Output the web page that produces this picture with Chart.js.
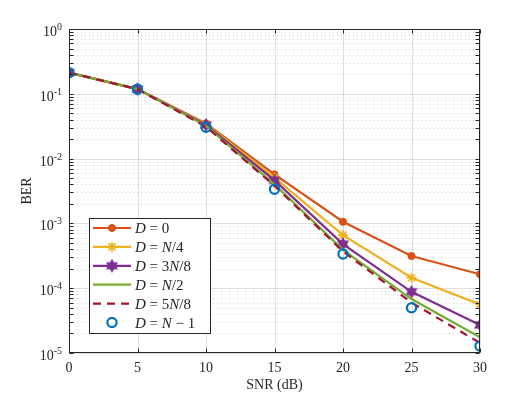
<!DOCTYPE html>
<html>
<head>
<meta charset="utf-8">
<script src="https://cdn.jsdelivr.net/npm/chart.js@4/dist/chart.umd.min.js"></script>
<style>
  html, body { margin: 0; background: #fff; }
  #wrap { width: 530px; height: 397px; }
</style>
</head>
<body>
<div id="wrap"><canvas id="berChart" width="530" height="397"></canvas></div>
<script>
// values
const snr = [0, 5, 10, 15, 20, 25, 30];
const berD0 = [0.212, 0.118, 0.035, 0.0057, 0.00106, 0.000314, 0.000164];
const berN4 = [0.212, 0.118, 0.034, 0.0051, 0.00066, 0.000145, 0.000056];
const ber3N8 = [0.212, 0.118, 0.033, 0.0046, 0.00048, 0.000088, 0.000027];
const berN2 = [0.212, 0.118, 0.032, 0.0040, 0.00039, 0.000068, 0.0000175];
const ber5N8 = [0.212, 0.118, 0.031, 0.0038, 0.00037, 0.000060, 0.0000143];
const berN1 = [0.212, 0.118, 0.0304, 0.00336, 0.000337, 0.000050, 0.0000128];
const seriesNames = ['D = 0', 'D = N/4', 'D = 3N/8', 'D = N/2', 'D = 5N/8', 'D = N \u2212 1'];
const xTicks = [0, 5, 10, 15, 20, 25, 30];
const yExponents = [-5, -4, -3, -2, -1, 0];

const AX = '#262626';
const SERIF = '"Liberation Serif", "DejaVu Serif", serif';

// filled six-point star (matlab 'h' marker)
function hexagram(color, r) {
    const c = document.createElement('canvas');
    const s = Math.ceil(r * 2 + 2);
    c.width = s; c.height = s;
    const g = c.getContext('2d');
    const cx = s / 2, cy = s / 2, ri = r * 0.58;
    g.beginPath();
    for (let i = 0; i < 12; i++) {
        const a = -Math.PI / 2 + i * Math.PI / 6;
        const rr = i % 2 === 0 ? r : ri;
        const px = cx + rr * Math.cos(a), py = cy + rr * Math.sin(a);
        if (i === 0) g.moveTo(px, py); else g.lineTo(px, py);
    }
    g.closePath();
    g.fillStyle = color;
    g.fill();
    return c;
}
const hexImg = hexagram('#7E2F8E', 7);

function pts(arr) { return snr.map((x, i) => ({ x: x, y: arr[i] })); }

const datasets = [
    { label: seriesNames[0], data: pts(berD0), borderColor: '#D95319', backgroundColor: '#D95319',
      pointStyle: 'circle', pointRadius: 3.6, pointBorderWidth: 1 },
    { label: seriesNames[1], data: pts(berN4), borderColor: '#EDB120', backgroundColor: '#EDB120',
      pointStyle: 'star', pointRadius: 5, pointBorderWidth: 1.6 },
    { label: seriesNames[2], data: pts(ber3N8), borderColor: '#7E2F8E', backgroundColor: '#7E2F8E',
      pointStyle: hexImg, pointRadius: 6 },
    { label: seriesNames[3], data: pts(berN2), borderColor: '#77AC30', backgroundColor: '#77AC30',
      pointRadius: 0 },
    { label: seriesNames[4], data: pts(ber5N8), borderColor: '#A2142F', backgroundColor: '#A2142F',
      pointRadius: 0, borderDash: [8, 6] },
    { label: seriesNames[5], data: pts(berN1), borderColor: '#0072BD', backgroundColor: 'rgba(0,0,0,0)',
      pointStyle: 'circle', pointRadius: 4.6, pointBorderWidth: 2.2, showLine: false }
];
datasets.forEach((d, i) => {
    d.borderWidth = 2.2;
    d.tension = 0;
    d.fill = false;
    d.order = datasets.length - i; // later series on top, like matlab
    d.pointBorderColor = d.borderColor;
    d.pointBackgroundColor = d.backgroundColor;
});

// grid, box, inward ticks, y labels with exponents and the legend
const frame = {
    id: 'frame',
    beforeDatasetsDraw(chart) {
        const { ctx, chartArea: a, scales: { x, y } } = chart;
        ctx.save();
        ctx.lineWidth = 1;
        // minor (dotted)
        ctx.strokeStyle = 'rgba(38,38,38,0.2)';
        ctx.setLineDash([1, 3]);
        yExponents.forEach(e => {
            if (e >= 0) return;
            for (let m = 2; m <= 9; m++) {
                const py = Math.round(y.getPixelForValue(m * Math.pow(10, e))) + 0.5;
                ctx.beginPath(); ctx.moveTo(a.left, py); ctx.lineTo(a.right, py); ctx.stroke();
            }
        });
        // major (solid)
        ctx.setLineDash([]);
        ctx.strokeStyle = 'rgba(38,38,38,0.15)';
        yExponents.forEach(e => {
            const py = Math.round(y.getPixelForValue(Math.pow(10, e))) + 0.5;
            ctx.beginPath(); ctx.moveTo(a.left, py); ctx.lineTo(a.right, py); ctx.stroke();
        });
        xTicks.forEach(v => {
            const px = Math.round(x.getPixelForValue(v)) + 0.5;
            ctx.beginPath(); ctx.moveTo(px, a.top); ctx.lineTo(px, a.bottom); ctx.stroke();
        });
        ctx.restore();
    },
    afterDatasetsDraw(chart) {
        const { ctx, chartArea: a, scales: { x, y } } = chart;
        ctx.save();
        ctx.strokeStyle = AX;
        ctx.lineWidth = 1;
        const L = Math.round(a.left) + 0.5, R = Math.round(a.right) - 0.5;
        const T = Math.round(a.top) + 0.5, B = Math.round(a.bottom) - 0.5;
        ctx.strokeRect(L, T, R - L, B - T);
        const tk = 4;
        ctx.beginPath();
        xTicks.forEach(v => {
            const px = Math.round(x.getPixelForValue(v)) + 0.5;
            ctx.moveTo(px, B); ctx.lineTo(px, B - tk);
            ctx.moveTo(px, T); ctx.lineTo(px, T + tk);
        });
        yExponents.forEach(e => {
            for (let m = 1; m <= (e < 0 ? 9 : 1); m++) {
                const py = Math.round(y.getPixelForValue(m * Math.pow(10, e))) + 0.5;
                ctx.moveTo(L, py); ctx.lineTo(L + tk, py);
                ctx.moveTo(R, py); ctx.lineTo(R - tk, py);
            }
        });
        ctx.stroke();

        // y tick labels 10^e
        ctx.fillStyle = AX;
        ctx.textBaseline = 'alphabetic';
        ctx.textAlign = 'left';
        const bigF = '14px ' + SERIF, supF = '10px ' + SERIF;
        yExponents.forEach(e => {
            const py = y.getPixelForValue(Math.pow(10, e));
            const ex = String(e);
            ctx.font = bigF; const wb = ctx.measureText('10').width;
            ctx.font = supF; const ws = ctx.measureText(ex).width;
            const x0 = 62 - wb - ws;
            ctx.font = bigF; ctx.fillText('10', x0, py + 7);
            ctx.font = supF; ctx.fillText(ex, x0 + wb, py + 1);
        });

        // legend
        const bx = 89.5, by = 218.5, bw = 121, bh = 115;
        ctx.fillStyle = '#fff';
        ctx.fillRect(bx, by, bw, bh);
        ctx.strokeStyle = AX;
        ctx.strokeRect(bx, by, bw, bh);
        chart.data.datasets.forEach((d, i) => {
            const cy = 228 + i * 18.9;
            ctx.save();
            if (d.showLine !== false) {
                ctx.strokeStyle = d.borderColor;
                ctx.lineWidth = d.borderWidth;
                ctx.setLineDash(d.borderDash || []);
                ctx.beginPath(); ctx.moveTo(93, cy); ctx.lineTo(131, cy); ctx.stroke();
            }
            ctx.setLineDash([]);
            const mx = 112;
            if (d.pointRadius > 0) {
                if (d.pointStyle === 'circle') {
                    ctx.beginPath(); ctx.arc(mx, cy, d.pointRadius, 0, Math.PI * 2);
                    ctx.fillStyle = d.backgroundColor; ctx.fill();
                    ctx.lineWidth = d.pointBorderWidth; ctx.strokeStyle = d.borderColor; ctx.stroke();
                } else if (d.pointStyle === 'star') {
                    ctx.lineWidth = d.pointBorderWidth; ctx.strokeStyle = d.borderColor;
                    ctx.beginPath();
                    for (let k = 0; k < 4; k++) {
                        const ang = k * Math.PI / 4;
                        const r = d.pointRadius;
                        ctx.moveTo(mx - r * Math.cos(ang), cy - r * Math.sin(ang));
                        ctx.lineTo(mx + r * Math.cos(ang), cy + r * Math.sin(ang));
                    }
                    ctx.stroke();
                } else {
                    const img = d.pointStyle;
                    ctx.drawImage(img, mx - img.width / 2, cy - img.height / 2);
                }
            }
            ctx.restore();
            // label: capital letters italic
            let tx = 135;
            ctx.fillStyle = AX;
            for (const ch of d.label) {
                ctx.font = (/[A-Z]/.test(ch) ? 'italic ' : '') + '15px ' + SERIF;
                ctx.fillText(ch, tx, cy + 5);
                tx += ctx.measureText(ch).width;
            }
        });
        ctx.restore();
    }
};

new Chart(document.getElementById('berChart'), {
    type: 'line',
    data: { datasets: datasets },
    options: {
        responsive: false,
        animation: false,
        devicePixelRatio: 1,
        layout: { padding: { top: 29, right: 50, left: 0, bottom: 0 } },
        plugins: { legend: { display: false }, tooltip: { enabled: false } },
        scales: {
            x: {
                type: 'linear',
                min: 0, max: 30,
                afterFit: s => { s.height = 44; },
                afterBuildTicks: s => { s.ticks = xTicks.map(v => ({ value: v })); },
                grid: { display: false, drawTicks: false },
                border: { display: false },
                ticks: { color: AX, font: { family: SERIF, size: 14 }, padding: 7, maxRotation: 0 },
                title: { display: true, text: 'SNR (dB)', color: AX,
                         font: { family: SERIF, size: 14 }, padding: { top: 0, bottom: 3 } }
            },
            y: {
                type: 'logarithmic',
                min: 1e-5, max: 1,
                afterFit: s => { s.width = 69; },
                grid: { display: false, drawTicks: false },
                border: { display: false },
                ticks: { display: false },
                title: { display: true, text: 'BER', color: AX,
                         font: { family: SERIF, size: 14 }, padding: { top: 19, bottom: 0 } }
            }
        }
    },
    plugins: [frame]
});
</script>
</body>
</html>
